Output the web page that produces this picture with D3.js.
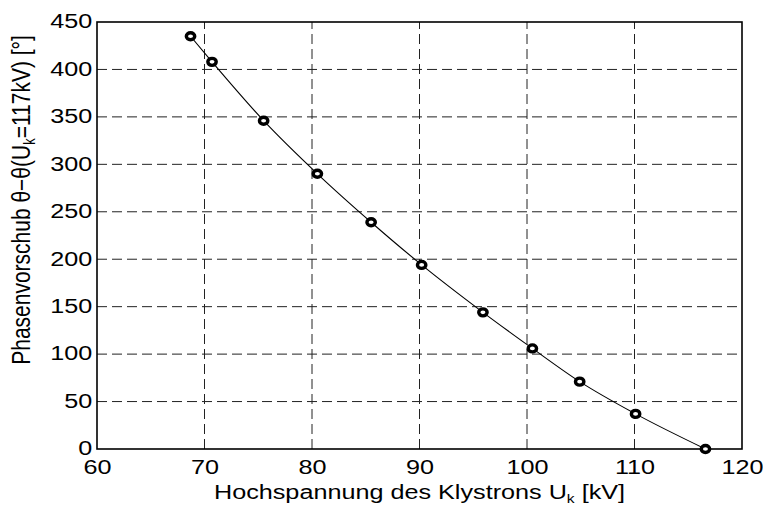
<!DOCTYPE html>
<html>
<head>
	<meta charset="utf-8">
	<title>Phasenvorschub</title>
	<script src="https://cdn.jsdelivr.net/npm/d3@7"></script>
	<style>
		body { margin: 0; background: #fff; }
		text { font-family: "Liberation Sans", Arial, Helvetica, sans-serif; fill: #000; }
	</style>
</head>
<body>
	<div id="chart"></div>
	<script>

		// data
		const voltage = [68.7, 70.7, 75.5, 80.5, 85.5, 90.2, 95.9, 100.5, 104.9, 110.1, 116.6];
		const phase = [435, 408, 346, 290, 239, 194, 144, 106, 71, 37, 0];
		const xTicks = [60, 70, 80, 90, 100, 110, 120];
		const yTicks = [0, 50, 100, 150, 200, 250, 300, 350, 400, 450];

		const width = 763;
		const height = 507;
		const margin = {top: 22, right: 21, bottom: 58, left: 97};
		const fontSize = 21;
		const stretch = 1.2;   // the reference text is a bit wider than Arial

		const svg = d3.select('#chart')
				.append('svg')
				.attr('width', width)
				.attr('height', height);

		const x = d3.scaleLinear()
				.domain([60, 120])
				.range([margin.left, width - margin.right]);

		const y = d3.scaleLinear()
				.domain([0, 450])
				.range([height - margin.bottom, margin.top]);

		// dashed grid
		svg.append('g')
				.selectAll('line')
				.data(xTicks.slice(1, -1))
				.join('line')
				.attr('x1', d => x(d)).attr('x2', d => x(d))
				.attr('y1', y(0)).attr('y2', y(450))
				.attr('stroke', '#222')
				.attr('stroke-dasharray', '10,5');

		svg.append('g')
				.selectAll('line')
				.data(yTicks.slice(1, -1))
				.join('line')
				.attr('x1', x(60)).attr('x2', x(120))
				.attr('y1', d => y(d)).attr('y2', d => y(d))
				.attr('stroke', '#222')
				.attr('stroke-dasharray', '10,5');

		// axes
		const xAxis = svg.append('g')
				.attr('transform', `translate(0,${y(0)})`)
				.call(d3.axisBottom(x).tickValues(xTicks).tickSize(0).tickPadding(10));
		const yAxis = svg.append('g')
				.attr('transform', `translate(${x(60)},0)`)
				.call(d3.axisLeft(y).tickValues(yTicks).tickSize(0).tickPadding(4));

		[xAxis, yAxis].forEach(g => {
			g.select('.domain').remove();
			g.selectAll('text')
				.attr('transform', `scale(${stretch},1)`)
				.style('font-size', fontSize + 'px')
				.style('font-family', '"Liberation Sans", Arial, sans-serif')
				.attr('fill', '#000');
		});
		yAxis.selectAll('text').attr('dy', '0.28em');

		// box
		svg.append('rect')
				.attr('x', x(60))
				.attr('y', y(450))
				.attr('width', x(120) - x(60))
				.attr('height', y(0) - y(450))
				.attr('fill', 'none')
				.attr('stroke', '#000')
				.attr('stroke-width', 1.6);

		// fitted curve
		const line = d3.line()
				.x((d, i) => x(voltage[i]))
				.y(d => y(d))
				.curve(d3.curveMonotoneX);

		svg.append('path')
				.datum(phase)
				.attr('d', line)
				.attr('fill', 'none')
				.attr('stroke', '#000')
				.attr('stroke-width', 1.1);

		// markers (slightly wider than tall, like the reference)
		svg.append('g')
				.selectAll('ellipse')
				.data(phase)
				.join('ellipse')
				.attr('cx', (d, i) => x(voltage[i]))
				.attr('cy', d => y(d))
				.attr('rx', 4.2)
				.attr('ry', 3.5)
				.attr('fill', '#fff')
				.attr('stroke', '#000')
				.attr('stroke-width', 3.4);

		// x label
		const xl = svg.append('text')
				.attr('transform', `translate(${(x(60) + x(120)) / 2},499) scale(${stretch},1)`)
				.attr('text-anchor', 'middle')
				.style('font-size', fontSize + 'px');
		xl.append('tspan').text('Hochspannung des Klystrons U');
		xl.append('tspan').text('k').attr('dy', 4).style('font-size', '13px');
		xl.append('tspan').text(' [kV]').attr('dy', -4);

		// y label
		const yl = svg.append('text')
				.attr('transform', `translate(30,200) rotate(-90) scale(1,${stretch})`)
				.attr('text-anchor', 'middle')
				.style('font-size', fontSize + 'px');
		yl.append('tspan').text('Phasenvorschub θ−θ(U');
		yl.append('tspan').text('k').attr('dy', 4).style('font-size', '13px');
		yl.append('tspan').text('=117kV) [°]').attr('dy', -4);

	</script>
</body>
</html>
